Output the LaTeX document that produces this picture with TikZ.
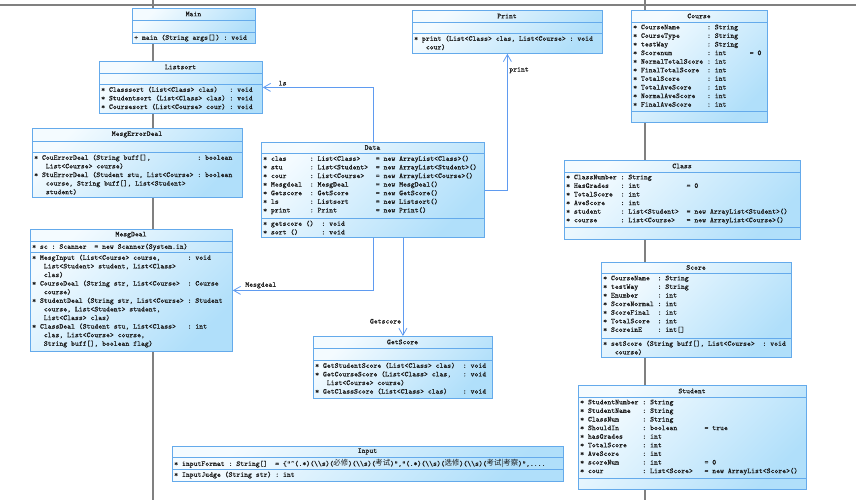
\documentclass[tikz,border=0pt]{standalone}
\usepackage{fontspec}
\newfontfamily\umlfont{lmmono10-regular.otf}[FakeBold=0.35]
\newfontfamily\cjk{Noto Sans CJK SC}
\usepackage{xcolor}
\definecolor{Col1}{RGB}{100,170,235}
\definecolor{Col2}{RGB}{95,155,240}
\definecolor{Col3}{RGB}{244,251,255}
\definecolor{Col4}{RGB}{176,223,250}
\definecolor{Col5}{RGB}{128,128,128}
\usepackage{tikz}
\usetikzlibrary{arrows.meta}
\newcommand\Ws{(\textbackslash\textbackslash s)}
\tikzstyle{Txt}=[font=\fontsize{7.4}{8.6}\selectfont\umlfont\frenchspacing,text=black!90]
\tikzstyle{Box}=[draw=Col1,line width=.8pt,top color=Col3,bottom color=Col4,
shading angle=45,anchor=north west,inner sep=0pt]
\tikzstyle{Part}=[draw=Col1,line width=.8pt]
\tikzstyle{Title}=[Txt,inner sep=0pt]
\tikzstyle{Rows}=[Txt,anchor=north west,inner sep=0pt,align=left]
\tikzstyle{Edge}=[draw=Col2,line width=.8pt,-{Straight Barb[length=7pt,width=8pt]}]
\tikzstyle{EdgeLabel}=[Txt,inner sep=1.5pt]
\tikzstyle{Lane}=[draw=Col5,line width=1.2pt]
\begin{document}
\begin{tikzpicture}[x=1pt,y=-1pt]
        \useasboundingbox(0,0)rectangle(856,500);
        \draw[Lane](0,5)--(856,5);
        \draw[Lane](153,0)--(153,500);
        \draw[Lane](645,0)--(645,500);
        \node[Box,minimum width=123,minimum height=35](Main)at(132,8){};
        \draw[Part](132,20)--(255,20);
        \draw[Part](132,32)--(255,32);
        \node[Title](MainT)at(193.5,14){Main};
        \node[Rows](MainO)at(134,34.5){+ main (String args[]) : void};
        \node[Box,minimum width=163,minimum height=52](Listsort)at(99,61){};
        \draw[Part](99,73)--(262,73);
        \draw[Part](99,84)--(262,84);
        \node[Title](ListsortT)at(180.5,67){Listsort};
        \node[Rows](ListsortO)at(101,86.5){* Classsort (List<Class> clas)~~~: void\\
            * Studentsort (List<Class> clas)~: void\\
            * Coursesort (List<Course> cour)~: void};
        \node[Box,minimum width=210,minimum height=69](MesgErrorDeal)at(32,128){};
        \draw[Part](32,141)--(242,141);
        \draw[Part](32,152)--(242,152);
        \node[Title](MesgErrorDealT)at(137,134.5){MesgErrorDeal};
        \node[Rows](MesgErrorDealO)at(34,154.5){* CouErrorDeal (String buff[],~~~~~~~~~~~~: boolean\\
            ~~~List<Course> course)\\
            * StuErrorDeal (Student stu, List<Course>~: boolean\\
            ~~~course, String buff[], List<Student>\\
            ~~~student)};
        \node[Box,minimum width=202,minimum height=122](MesgDeal)at(30,229){};
        \draw[Part](30,241)--(232,241);
        \draw[Part](30,252)--(232,252);
        \node[Title](MesgDealT)at(131,235){MesgDeal};
        \node[Rows](MesgDealA)at(32,243.5){* sc~: Scanner~~= new Scanner(System.in)};
        \node[Rows](MesgDealO)at(32,254.5){* MesgInput (List<Course> course,~~~~~~~: void\\
            ~~~List<Student> student, List<Class>\\
            ~~~clas)\\
            * CourseDeal (String str, List<Course>~~: Course\\
            ~~~course)\\
            * StudentDeal (String str, List<Course>~: Student\\
            ~~~course, List<Student> student,\\
            ~~~List<Class> clas)\\
            * ClassDeal (Student stu, List<Class>~~~: int\\
            ~~~clas, List<Course> course,\\
            ~~~String buff[], boolean flag)};
        \node[Box,minimum width=223,minimum height=95](Data)at(261,142){};
        \draw[Part](261,153)--(484,153);
        \draw[Part](261,218)--(484,218);
        \node[Title](DataT)at(372.5,147.5){Data};
        \node[Rows](DataA)at(263,155.5){* clas~~~~~~: List<Class>~~~~= new ArrayList<Class>()\\
            * stu~~~~~~~: List<Student>~~= new ArrayList<Student>()\\
            * cour~~~~~~: List<Course>~~~= new ArrayList<Course>()\\
            * Mesgdeal~~: MesgDeal~~~~~~~= new MesgDeal()\\
            * Getscore~~: GetScore~~~~~~~= new GetScore()\\
            * ls~~~~~~~~: Listsort~~~~~~~= new Listsort()\\
            * print~~~~~: Print~~~~~~~~~~= new Print()};
        \node[Rows](DataO)at(263,220.5){* getscore ()~~: void\\
            * sort ()~~~~~~: void};
        \node[Box,minimum width=190,minimum height=43](Print)at(412,10){};
        \draw[Part](412,22)--(602,22);
        \draw[Part](412,33)--(602,33);
        \node[Title](PrintT)at(507,16){Print};
        \node[Rows](PrintO)at(414,35.5){* print (List<Class> clas, List<Course>~: void\\
            ~~~cour)};
        \node[Box,minimum width=136,minimum height=112](Course)at(631,10){};
        \draw[Part](631,22)--(767,22);
        \draw[Part](631,111)--(767,111);
        \node[Title](CourseT)at(699,16){Course};
        \node[Rows](CourseA)at(633,24.5){* CourseName~~~~~~~: String\\
            * CourseType~~~~~~~: String\\
            * testWay~~~~~~~~~~: String\\
            * Scorenum~~~~~~~~~: int~~~~~~= 0\\
            * NormalTotalScore~: int\\
            * FinalTotalScore~~: int\\
            * TotalScore~~~~~~~: int\\
            * TotalAveScore~~~~: int\\
            * NormalAveScore~~~: int\\
            * FinalAveScore~~~~: int};
        \node[Box,minimum width=236,minimum height=79](Class)at(564,160){};
        \draw[Part](564,172)--(800,172);
        \draw[Part](564,227)--(800,227);
        \node[Title](ClassT)at(682,166){Class};
        \node[Rows](ClassA)at(566,174.5){* ClassNumber~: String\\
            * HasGrades~~~: int~~~~~~~~~~~~= 0\\
            * TotalScore~~: int\\
            * AveScore~~~~: int\\
            * student~~~~~: List<Student>~~= new ArrayList<Student>()\\
            * course~~~~~~: List<Course>~~~= new ArrayList<Course>()};
        \node[Box,minimum width=190,minimum height=95](Score)at(601,262){};
        \draw[Part](601,273)--(791,273);
        \draw[Part](601,338)--(791,338);
        \node[Title](ScoreT)at(696,267.5){Score};
        \node[Rows](ScoreA)at(603,275.5){* CourseName~~: String\\
            * testWay~~~~~: String\\
            * Enumber~~~~~: int\\
            * ScoreNormal~: int\\
            * ScoreFinal~~: int\\
            * TotalScore~~: int\\
            * ScoreinE~~~~: int[]};
        \node[Rows](ScoreO)at(603,340.5){* setScore (String buff[], List<Course>~~: void\\
            ~~~course)};
        \node[Box,minimum width=228,minimum height=104](Student)at(578,385){};
        \draw[Part](578,397)--(806,397);
        \draw[Part](578,478)--(806,478);
        \node[Title](StudentT)at(692,391){Student};
        \node[Rows](StudentA)at(580,399.5){* StudentNumber~: String\\
            * StudentName~~~: String\\
            * ClassNum~~~~~~: String\\
            * ShouldIn~~~~~~: boolean~~~~~~~= true\\
            * hasGrades~~~~~: int\\
            * TotalScore~~~~: int\\
            * AveScore~~~~~~: int\\
            * scoreNum~~~~~~: int~~~~~~~~~~~= 0\\
            * cour~~~~~~~~~~: List<Score>~~~= new ArrayList<Score>()};
        \node[Box,minimum width=179,minimum height=62](GetScore)at(313,336){};
        \draw[Part](313,348)--(492,348);
        \draw[Part](313,360)--(492,360);
        \node[Title](GetScoreT)at(402.5,342){GetScore};
        \node[Rows](GetScoreO)at(315,362.5){* GetStudentScore (List<Class> clas)~~: void\\
            * GetCourseScore (List<Class> clas,~~~: void\\
            ~~~List<Course> course)\\
            * GetClassScore (List<Class> clas)~~~~: void};
        \node[Box,minimum width=391,minimum height=35](Input)at(172,446){};
        \draw[Part](172,457)--(563,457);
        \draw[Part](172,469)--(563,469);
        \node[Title](InputT)at(367.5,451.5){Input};
        \node[Rows](InputA)at(174,459.5){* inputFormat : String[]~~= \{"\textasciicircum(.*)\Ws({\cjk 必修})\Ws({\cjk 考试})","(.*)\Ws({\cjk 选修})\Ws({\cjk 考试|考察})",....};
        \node[Rows](InputO)at(174,471.5){* InputJudge (String str) : int};
        \draw[Edge](Data.north)|-(Listsort.east)node[EdgeLabel,pos=.91,above]{ls};
        \draw[Edge](Data.east)-|(Print.south)node[EdgeLabel,pos=.94,right]{print};
        \draw[Edge](Data.south)|-(MesgDeal.east)node[EdgeLabel,pos=.9,above]{Mesgdeal};
        \draw[Edge](Data.south-|GetScore.north)--(GetScore.north)
            node[EdgeLabel,pos=.85,left]{Getscore};
    \end{tikzpicture}
\end{document}
